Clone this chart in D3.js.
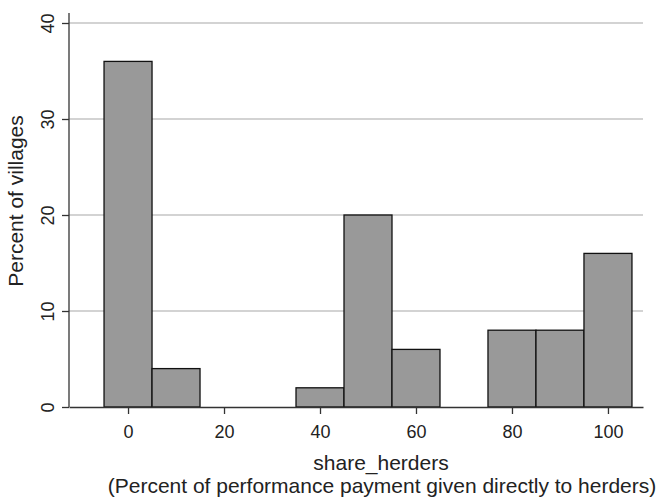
<!DOCTYPE html>
<html>
<head>
<meta charset="utf-8">
<script src="https://cdn.jsdelivr.net/npm/d3@7"></script>
<style>
  body { margin: 0; background: #fff; }
  svg { display: block; font-family: "Liberation Sans", Arial, Helvetica, sans-serif; }
</style>
</head>
<body>
<script>
// histogram bins (bin centre, width 10) and percent of villages
const binCenters = [0, 10, 20, 30, 40, 50, 60, 70, 80, 90, 100];
const percents = [36, 4, 0, 0, 2, 20, 6, 0, 8, 8, 16];
const xTicks = [0, 20, 40, 60, 80, 100];
const yTicks = [0, 10, 20, 30, 40];
const binWidth = 10;

const svgWidth = 661;
const svgHeight = 499;

const svg = d3.select('body').append('svg')
  .attr('width', svgWidth)
  .attr('height', svgHeight);

const xScale = d3.scaleLinear()
  .domain([-12.3, 107.3])
  .range([69, 643]);

const yScale = d3.scaleLinear()
  .domain([0, 40])
  .range([407, 23]);

// gridlines
svg.append('g')
  .selectAll('line')
  .data(yTicks.slice(1))
  .enter().append('line')
  .attr('x1', xScale.range()[0])
  .attr('x2', xScale.range()[1])
  .attr('y1', d => yScale(d))
  .attr('y2', d => yScale(d))
  .attr('stroke', '#a8a8a8')
  .attr('stroke-width', 1.2);

// bars
svg.append('g')
  .selectAll('rect')
  .data(binCenters.map((c, i) => ({ c, v: percents[i] })).filter(d => d.v > 0))
  .enter().append('rect')
  .attr('x', d => xScale(d.c - binWidth / 2))
  .attr('width', d => xScale(d.c + binWidth / 2) - xScale(d.c - binWidth / 2))
  .attr('y', d => yScale(d.v))
  .attr('height', d => yScale(0) - yScale(d.v))
  .attr('fill', '#999999')
  .attr('stroke', '#111')
  .attr('stroke-width', 1.3);

// x-axis
const xAxis = svg.append('g')
  .attr('transform', `translate(0, ${yScale(0)})`)
  .call(d3.axisBottom(xScale).tickValues(xTicks).tickSize(7).tickPadding(11).tickSizeOuter(0));

// y-axis
const yAxis = svg.append('g')
  .attr('transform', `translate(${xScale.range()[0]}, 0)`)
  .call(d3.axisLeft(yScale).tickValues(yTicks).tickSize(7).tickPadding(0).tickSizeOuter(0));

[xAxis, yAxis].forEach(g => {
  g.select('.domain').attr('stroke', '#333').attr('stroke-width', 1.3);
  g.selectAll('.tick line').attr('stroke', '#333').attr('stroke-width', 1.3);
  g.selectAll('.tick text').attr('fill', '#222').style('font-size', '18px');
});

// extend y axis line to top
yAxis.select('.domain').attr('d', `M0,${yScale(0)}V13`);

// rotate y tick labels
yAxis.selectAll('.tick text')
  .attr('transform', 'rotate(-90)')
  .attr('x', 0)
  .attr('y', -15)
  .attr('dy', '0')
  .attr('text-anchor', 'middle');

// axis titles
svg.append('text')
  .attr('transform', `translate(23, 201) rotate(-90)`)
  .attr('text-anchor', 'middle')
  .attr('fill', '#222')
  .style('font-size', '21px')
  .text('Percent of villages');

svg.append('text')
  .attr('x', 381)
  .attr('y', 470)
  .attr('text-anchor', 'middle')
  .attr('fill', '#222')
  .style('font-size', '21px')
  .text('share_herders');

svg.append('text')
  .attr('x', 382)
  .attr('y', 493)
  .attr('text-anchor', 'middle')
  .attr('fill', '#222')
  .style('font-size', '21px')
  .text('(Percent of performance payment given directly to herders)');
</script>
</body>
</html>
